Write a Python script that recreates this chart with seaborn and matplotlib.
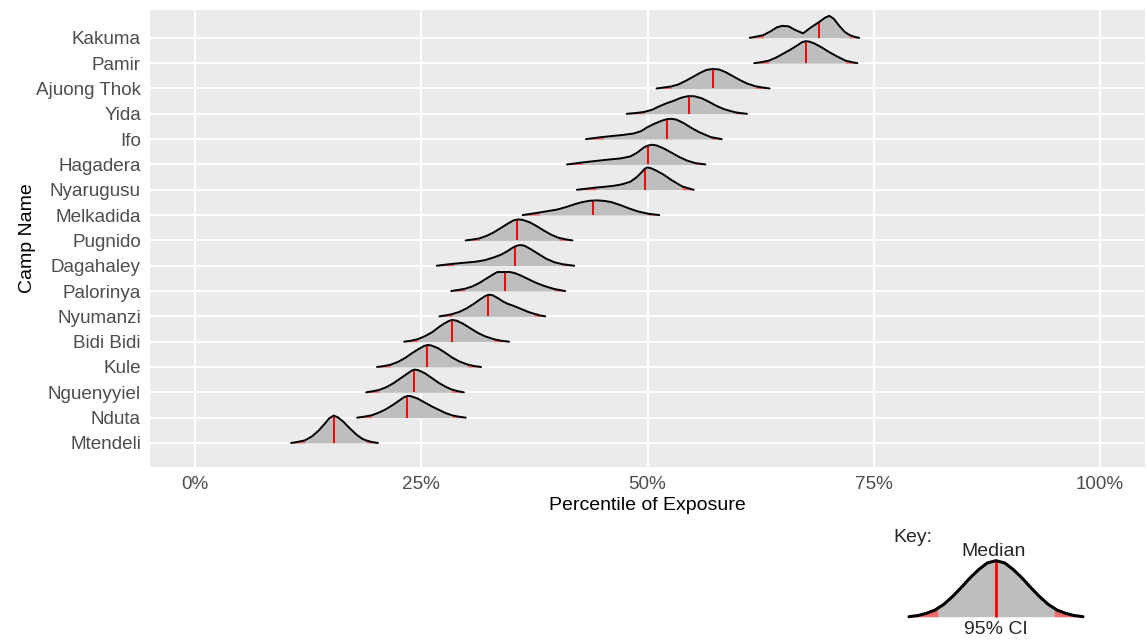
import numpy as np
import matplotlib
matplotlib.use("Agg")
import matplotlib.pyplot as plt
from matplotlib.ticker import PercentFormatter
import seaborn as sns

# camps from top row to bottom row
camps = ["Kakuma", "Pamir", "Ajuong Thok", "Yida", "Ifo", "Hagadera", "Nyarugusu",
         "Melkadida", "Pugnido", "Dagahaley", "Palorinya", "Nyumanzi", "Bidi Bidi",
         "Kule", "Nguenyyiel", "Nduta", "Mtendeli"]

medians = [69.0, 67.5, 57.2, 54.6, 52.2, 50.1, 49.7, 44.0, 35.6, 35.4, 34.2, 32.4,
           28.4, 25.6, 24.2, 23.4, 15.3]
ci_low = [62.8, 63.4, 52.6, 49.6, 45.1, 42.8, 44.3, 38.0, 31.4, 28.6, 29.8, 28.4,
          24.6, 21.6, 20.3, 19.5, 12.1]
ci_high = [72.3, 71.9, 61.9, 59.7, 57.0, 55.3, 53.8, 50.1, 40.2, 40.6, 39.7, 37.5,
           33.0, 30.1, 28.3, 28.4, 18.9]

# density outlines (x in %, height in px of a 25.3 px row)
dens_x = [
    [61.3, 62.0, 62.8, 63.6, 64.3, 64.9, 65.6, 66.3, 67.2, 68.0, 69.0, 69.6, 70.1, 70.6, 71.2, 71.8, 72.3, 72.9, 73.4],
    [61.8, 62.6, 63.4, 64.2, 65.0, 65.8, 66.6, 67.1, 67.5, 67.9, 68.5, 69.3, 70.1, 70.9, 71.9, 72.6, 73.2],
    [51.0, 51.8, 52.6, 53.4, 54.2, 55.0, 55.8, 56.5, 57.2, 57.9, 58.6, 59.4, 60.2, 61.0, 61.9, 62.7, 63.5],
    [47.7, 48.7, 49.6, 50.5, 51.3, 52.1, 52.9, 53.7, 54.5, 55.2, 56.0, 56.8, 57.6, 58.5, 59.7, 60.4, 61.0],
    [43.2, 44.2, 45.1, 46.2, 47.3, 48.5, 49.3, 50.0, 50.8, 51.6, 52.2, 52.6, 53.2, 54.0, 54.8, 55.7, 57.0, 57.6, 58.2],
    [41.1, 42.0, 42.8, 44.0, 45.5, 47.0, 48.1, 48.9, 49.6, 50.1, 50.5, 51.0, 51.8, 52.6, 53.5, 54.4, 55.3, 56.4],
    [42.2, 43.2, 44.3, 45.3, 46.3, 47.2, 48.1, 48.8, 49.4, 49.7, 50.0, 50.4, 51.0, 51.8, 52.6, 53.8, 54.5, 55.1],
    [36.2, 37.1, 38.0, 39.0, 40.0, 41.0, 42.0, 42.8, 43.6, 44.4, 45.2, 46.0, 47.0, 48.0, 49.0, 50.1, 51.3],
    [29.9, 30.6, 31.4, 32.2, 33.0, 33.8, 34.6, 35.2, 35.7, 36.2, 37.0, 37.8, 38.6, 39.4, 40.2, 41.0, 41.7],
    [26.7, 27.6, 28.6, 29.8, 31.0, 32.0, 33.0, 33.8, 34.5, 35.1, 35.5, 35.9, 36.4, 37.1, 37.9, 38.8, 39.7, 40.6, 41.9],
    [28.3, 29.0, 29.8, 30.6, 31.4, 32.2, 33.0, 33.4, 34.8, 35.3, 36.0, 36.8, 37.6, 38.6, 39.7, 40.9],
    [27.0, 27.7, 28.4, 29.2, 30.0, 30.8, 31.5, 32.1, 32.5, 32.9, 33.5, 34.0, 34.5, 35.2, 36.0, 36.8, 37.5, 38.1, 38.7],
    [23.1, 23.9, 24.6, 25.4, 26.2, 27.0, 27.5, 28.0, 28.4, 28.9, 29.6, 30.4, 31.2, 32.0, 33.0, 33.8, 34.7],
    [20.1, 20.9, 21.6, 22.4, 23.2, 24.0, 24.8, 25.3, 25.7, 26.1, 26.8, 27.6, 28.4, 29.2, 30.1, 30.8, 31.6],
    [18.9, 19.6, 20.3, 21.1, 21.9, 22.7, 23.5, 24.0, 24.3, 24.7, 25.4, 26.2, 27.0, 27.7, 28.3, 29.0, 29.7],
    [17.9, 18.7, 19.5, 20.3, 21.1, 21.9, 22.7, 23.1, 23.5, 23.9, 24.6, 25.4, 26.2, 27.0, 27.7, 28.4, 29.1, 29.9],
    [10.6, 11.3, 12.1, 12.9, 13.6, 14.3, 14.8, 15.3, 15.8, 16.4, 17.1, 17.8, 18.4, 18.9, 19.5, 20.2],
]
dens_h = [
    [0, 1.2, 2.7, 6.5, 10.5, 12, 11.5, 8, 4.5, 10, 16, 20, 22, 19, 12, 6, 3, 1, 0],
    [0, 1, 2.5, 5.5, 9.5, 13.5, 18, 21, 22, 21.5, 19.5, 15.5, 11, 7, 2.5, 1, 0],
    [0, 1, 2, 4, 7.5, 11.5, 15.5, 18.5, 19.5, 19, 16.5, 12.5, 8.5, 5, 2.3, 1, 0],
    [0, 0.8, 1.8, 4, 7.5, 10.5, 13, 16, 17.7, 17.5, 15.5, 12, 8, 4.5, 1.5, 0.6, 0],
    [0, 1.2, 2.2, 3.2, 4.2, 5.7, 8, 12, 15.5, 18.5, 20, 20.3, 19.5, 16, 11.5, 7, 2, 1, 0],
    [0, 1, 2, 3.2, 4.7, 6, 8, 12, 17, 19, 19.7, 19, 16, 12, 7.5, 3.8, 1.3, 0],
    [0, 1, 2.2, 3, 4, 5.5, 8, 12.5, 18, 21, 22.3, 21.5, 19, 15, 10, 3.5, 1.5, 0],
    [0, 1.2, 2.5, 4, 5.5, 8, 11, 13, 14.3, 14.7, 14.2, 13, 10, 6.5, 3.5, 1.3, 0],
    [0, 0.8, 2, 4.5, 8, 12.5, 17, 20, 21, 20.5, 18, 14, 9.5, 5.5, 2.5, 1, 0],
    [0, 1, 2, 3, 4, 5.5, 8.3, 11, 14.5, 18, 19.8, 20.7, 20, 16.5, 12, 7, 3.5, 1.5, 0],
    [0, 1, 2.2, 4.5, 8, 12.5, 17, 19, 19, 18, 15.5, 12, 8.5, 5, 2, 0],
    [0, 1, 2.2, 4.5, 8, 12.5, 17, 20.5, 21.7, 21, 18, 15, 12.7, 10.5, 7.5, 4.5, 2.5, 1, 0],
    [0, 1, 2.5, 5.5, 9.5, 15, 18, 20.5, 21.7, 21, 18, 13.5, 9, 5.5, 2.5, 1, 0],
    [0, 1, 2.3, 5, 9, 14, 18.5, 21, 22, 21.5, 19, 14.5, 9.5, 5.5, 2.5, 1, 0],
    [0, 1, 2.3, 5, 9, 14, 19, 22, 22.7, 22, 19, 14, 9, 5.5, 3, 1.2, 0],
    [0, 1, 2.3, 5, 8.5, 13, 18, 20.5, 21.7, 21.3, 19, 15, 11, 7.5, 4.5, 2.3, 1, 0],
    [0, 1, 2.5, 6.5, 12, 19, 24.5, 27.3, 25.5, 21, 14.5, 8.5, 4.5, 2.5, 1, 0],
]

# key curve (x in half-widths, height relative to peak)
key_x = [-1.0, -0.9, -0.8, -0.7, -0.6, -0.5, -0.4, -0.3, -0.2, -0.1, 0.0,
         0.1, 0.2, 0.3, 0.4, 0.5, 0.6, 0.7, 0.8, 0.9, 1.0]
key_h = [0.0, 0.02, 0.06, 0.12, 0.22, 0.36, 0.52, 0.69, 0.84, 0.96, 1.0,
         0.96, 0.84, 0.69, 0.52, 0.36, 0.22, 0.12, 0.06, 0.02, 0.0]
key_ci = [-0.67, 0.67]

ROW = 25.3
GREY = "#BEBEBE"
TAIL = "#F46A6A"

sns.set_style("darkgrid", {"axes.facecolor": "#EBEBEB", "grid.color": "white",
                           "axes.edgecolor": "#EBEBEB"})
plt.rcParams["font.family"] = ["Liberation Sans", "DejaVu Sans"]

W, H = 1147, 640
fig = plt.figure(figsize=(W / 100, H / 100), dpi=100)
ax = fig.add_axes([150 / W, 1 - 467 / H, 995 / W, 457 / H])


def draw_ridge(ax, x, y, base, lo, hi, med, z, lw_line, lw_med):
    grid = np.sort(np.concatenate([np.linspace(x[0], x[-1], 500), [lo, hi]]))
    yy = np.interp(grid, x, y)
    ax.fill_between(grid, base, yy, color=GREY, lw=0, zorder=z)
    ax.fill_between(grid, base, yy, where=grid <= lo, color=TAIL, lw=0, zorder=z + 0.01)
    ax.fill_between(grid, base, yy, where=grid >= hi, color=TAIL, lw=0, zorder=z + 0.01)
    ax.plot([med, med], [base, np.interp(med, x, y)], color="red", lw=lw_med, zorder=z + 0.02,
            solid_capstyle="butt")
    sns.lineplot(x=x, y=y, color="black", lw=lw_line, ax=ax, estimator=None, sort=False,
                 zorder=z + 0.03)


n = len(camps)
for i, camp in enumerate(camps):
    pos = n - i
    x = np.array(dens_x[i])
    y = pos + np.array(dens_h[i]) / ROW
    draw_ridge(ax, x, y, pos, ci_low[i], ci_high[i], medians[i], 2 + i * 0.1, 1.4, 1.4)

ax.set_xlim(-5, 105)
ax.set_ylim(0.05, 18.1)
ax.set_xticks([0, 25, 50, 75, 100])
ax.xaxis.set_major_formatter(PercentFormatter(100, decimals=0))
ax.set_yticks(range(1, n + 1))
ax.set_yticklabels(camps[::-1])
ax.grid(True, color="white", lw=1.4)
ax.set_axisbelow(True)
for s in ax.spines.values():
    s.set_visible(False)
ax.tick_params(axis="both", length=3.5, width=1, color="#333333", labelcolor="#4D4D4D",
               labelsize=13.6, pad=3)
ax.set_xlabel("Percentile of Exposure", fontsize=14, color="black", labelpad=3)
ax.set_ylabel("Camp Name", fontsize=14, color="black", labelpad=0)

# key
kax = fig.add_axes([905 / W, 1 - 620 / H, 183 / W, 65 / H])
kax.set_axis_off()
kx = np.array(key_x)
ky = np.array(key_h)
draw_ridge(kax, kx, ky, 0, key_ci[0], key_ci[1], 0.0, 2, 2.2, 2.0)
kax.set_xlim((905 - 996) / 87, (1088 - 996) / 87)
kax.set_ylim(-3.3 / 56, 61.7 / 56)

fig.text(893 / W, 1 - 538 / H, "Key:", fontsize=14, ha="left", va="center")
fig.text(994 / W, 1 - 551 / H, "Median", fontsize=14, ha="center", va="center")
fig.text(996 / W, 1 - 629 / H, "95% CI", fontsize=14, ha="center", va="center")

fig.savefig("out.png", dpi=100)
